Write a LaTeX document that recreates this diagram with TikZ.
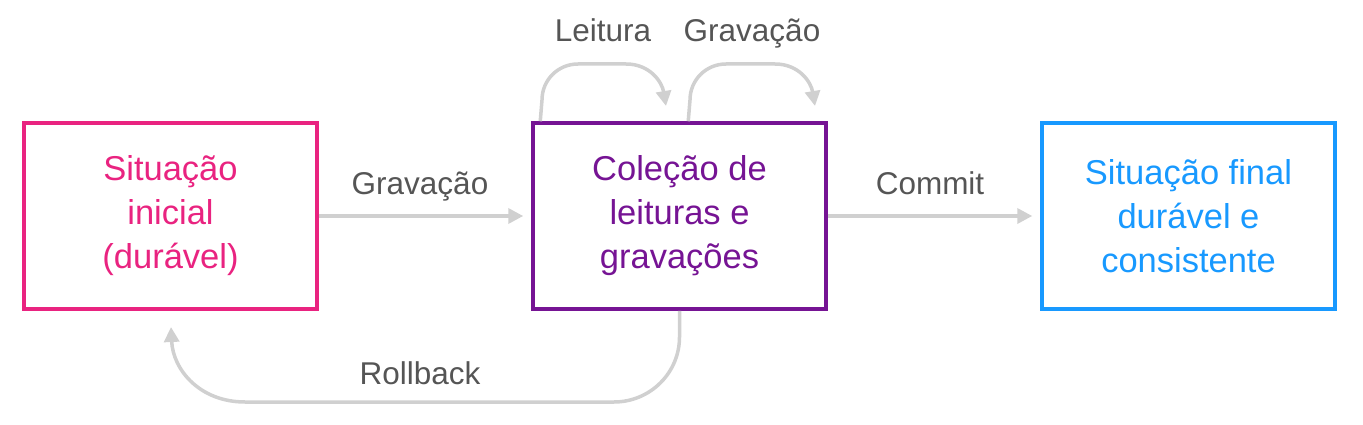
\documentclass[tikz,border=0pt]{standalone}
\usepackage{fontspec}
\setmainfont{Liberation Sans}
\usetikzlibrary{arrows.meta,calc}
\definecolor{cpink}{RGB}{233,35,128}
\definecolor{cpurple}{RGB}{118,20,148}
\definecolor{cblue}{RGB}{24,153,255}
\definecolor{ctext}{RGB}{85,85,85}
\definecolor{carrow}{RGB}{208,208,208}
\tikzset{
  box/.style={draw, line width=3.5pt, minimum width=293pt, minimum height=186pt, inner sep=0pt, align=center, font=\fontsize{34.5}{44}\selectfont},
  lbl/.style={text=ctext, font=\fontsize{31.5}{38}\selectfont, anchor=base, inner sep=0pt},
  arr/.style={draw=carrow, line width=3.5pt, -{Triangle[length=15pt,width=15pt]}}
}
\begin{document}
\begin{tikzpicture}[x=1pt,y=-1pt]
\useasboundingbox (0,0) rectangle (1363,425);
\node[box, draw=cpink, text=cpink] (b1) at (170.5,216) {Situação\\inicial\\(durável)};
\node[box, draw=cpurple, text=cpurple] (b2) at (679.5,216) {Coleção de\\leituras e\\gravações};
\node[box, draw=cblue, text=cblue] (b3) at (1188.5,216) {Situação final\\durável e\\consistente};
\node[lbl] (g1) at (420,194) {Gravação};
\node[lbl] (cm) at (930,194) {Commit};
\node[lbl] (le) at (603,42) {Leitura};
\node[lbl] (g2) at (752,42) {Gravação};
\node[lbl] (rb) at (420,384) {Rollback};
\draw[arr, shorten >=8pt] (b1.east) -- (b2.west);
\draw[arr, shorten >=8pt] (b2.east) -- (b3.west);
\coordinate (l1e) at (666,106);
\coordinate (l2e) at (815,106);
\coordinate (rbe) at (171,327);
\draw[arr] ([xshift=9pt]b2.north west) -- (542,100) .. controls (542,80) and (558,64) .. (578,64) -- (626,64) .. controls (650,64) and (662,82) .. (l1e);
\draw[arr] ([xshift=157pt]b2.north west) -- (690,100) .. controls (690,80) and (706,64) .. (726,64) -- (775,64) .. controls (799,64) and (811,82) .. (l2e);
\draw[arr] (b2.south) -- (679.5,337) .. controls (679.5,373) and (650,402) .. (614,402) -- (245,402) .. controls (200,402) and (173,370) .. (rbe);
\end{tikzpicture}
\end{document}
